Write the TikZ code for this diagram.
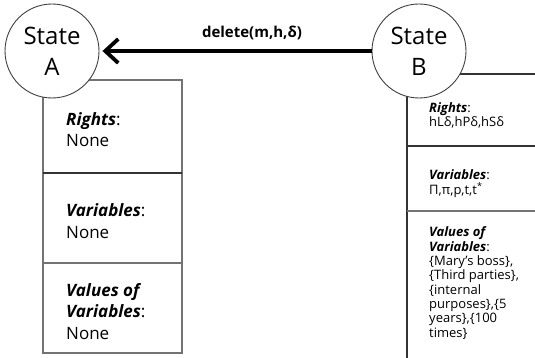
\documentclass[tikz,border=0pt]{standalone}
\usepackage{fontspec}
\setmainfont{Open Sans}
\usetikzlibrary{arrows.meta}
\begin{document}
\begin{tikzpicture}[x=1pt,y=-1pt,
  statecirc/.style={circle,draw=black!75,line width=0.9pt,fill=white,minimum size=94pt,inner sep=0pt,align=center,font=\fontsize{24}{31}\selectfont},
  lefttxt/.style={anchor=base west,inner sep=0pt,align=left,font=\fontsize{17}{21.5}\selectfont},
  righttxt/.style={anchor=base west,inner sep=0pt,align=left,font=\fontsize{13}{14.3}\selectfont},
  boxline/.style={draw=black!55,line width=1.2pt},
  thickdiv/.style={draw=black!55,line width=2.4pt},
  thindiv/.style={draw=black!80,line width=1.2pt},
  arrowlbl/.style={anchor=base,inner sep=0pt,font=\fontsize{15}{18}\selectfont\bfseries}
]
\useasboundingbox (0,0) rectangle (535,358);
\fill[white] (0,0) rectangle (535,358);
% left box
\draw[boxline] (43,80) rectangle (182,353);
\draw[thindiv] (43,173) -- (182,173);
\draw[thickdiv] (43,263) -- (182,263);
% right box
\draw[thindiv] (407,74) -- (545,74);
\draw[thindiv] (407,74) -- (407,368);
\draw[thindiv] (407,146) -- (545,146);
\draw[thickdiv] (407,211) -- (545,211);
% circles
\node[statecirc] (A) at (52,51) {State\\A};
\node[statecirc] (B) at (419,51) {State\\B};
% arrow
\draw[line width=3.8pt,-{Straight Barb[length=13pt,width=24pt]},shorten >=3pt] (B.west) -- (A.east);
\node[arrowlbl] (lab) at (252,38) {delete(m,h,δ)};
% left texts (anchor = baseline of last line)
\node[lefttxt] (l1) at (66,147) {\textbf{\textit{Rights}}:\\None};
\node[lefttxt] (l2) at (66,238) {\textbf{\textit{Variables}}:\\None};
\node[lefttxt] (l3) at (66,339) {\textbf{\textit{Values of}}\\\textbf{\textit{Variables}}:\\None};
% right texts
\node[righttxt] (r1) at (429,127) {\textbf{\textit{Rights}}:\\hLδ,hPδ,hSδ};
\node[righttxt] (r2) at (429,194) {\textbf{\textit{Variables}}:\\Π,π,p,t,t\textsuperscript{*}};
\node[righttxt] (r3) at (429,337) {\textbf{\textit{Values of}}\\\textbf{\textit{Variables}}:\\\{Mary’s boss\},\\\{Third parties\},\\\{internal\\purposes\},\{5\\years\},\{100\\times\}};
\end{tikzpicture}
\end{document}
